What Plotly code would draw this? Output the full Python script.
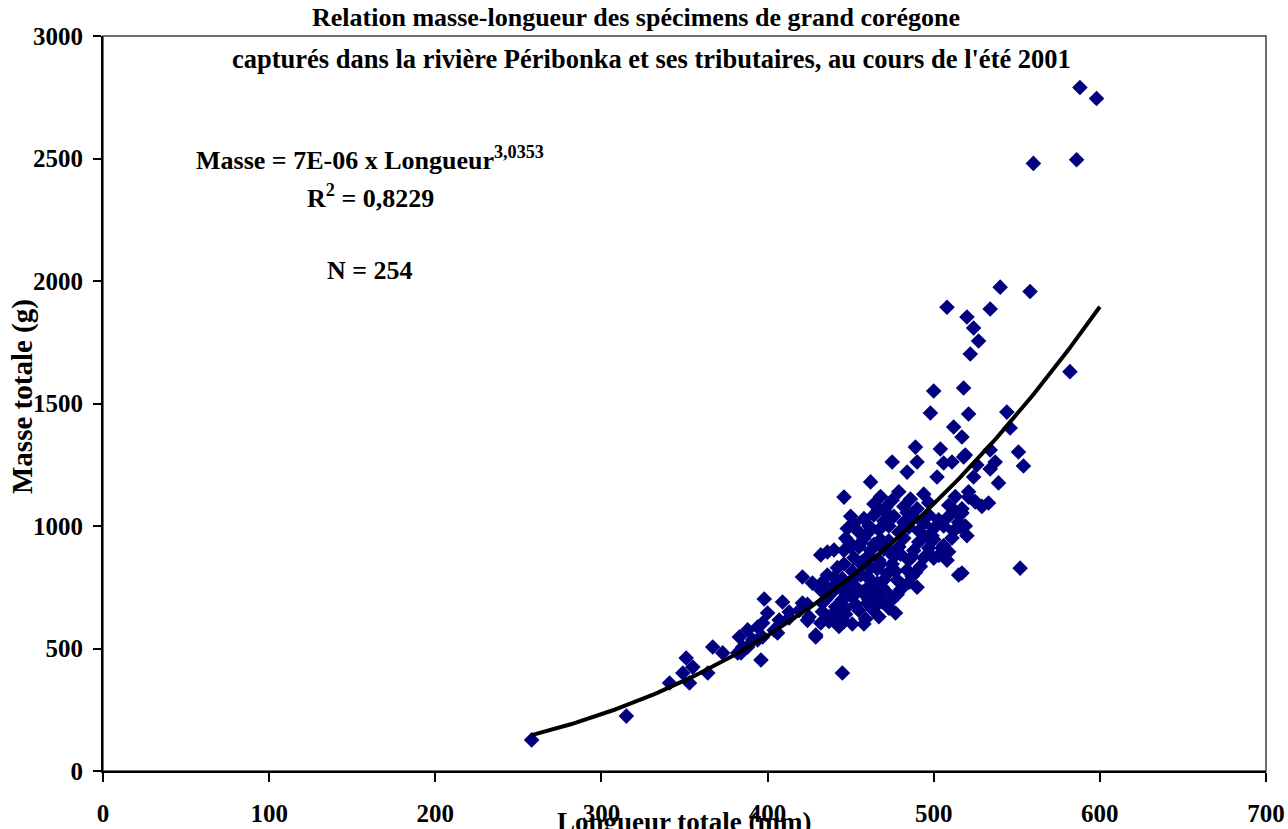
import numpy as np
import plotly.graph_objects as go

# ---- data ----
# isolated / edge points
longueur_a = [258, 315, 341, 353, 349, 355, 351, 364, 367, 373, 384, 388, 396, 394, 383, 391, 397, 406, 385, 382,
              388, 394, 397, 400, 407, 413, 398, 409, 421, 427, 432, 437, 445, 451, 460, 463, 466, 425, 432, 445,
              442, 451, 460, 437, 433, 421, 429, 445, 436, 440, 432, 450, 456, 446, 462, 475, 484, 490, 489, 504,
              502, 511, 519, 524, 512, 517, 498, 500, 518, 521, 544, 546, 508, 520, 534, 524, 527, 522, 540, 558,
              560, 586, 588, 598, 582, 534, 551, 554, 537, 534, 526, 518, 539, 521, 525, 533, 517, 516, 552, 517,
              515, 506, 404, 413, 419, 424, 424, 429, 447, 445]
masse_a = [127, 224, 359, 359, 400, 424, 461, 400, 506, 482, 482, 506, 453, 535, 547, 535, 547, 563, 506, 482,
           576, 588, 604, 645, 616, 649, 702, 690, 792, 767, 739, 727, 767, 780, 792, 739, 767, 629, 604, 604,
           657, 710, 686, 629, 686, 686, 547, 400, 894, 902, 882, 914, 931, 1118, 1180, 1261, 1220, 1261, 1322, 1314,
           1200, 1261, 1290, 1200, 1404, 1363, 1461, 1551, 1563, 1457, 1465, 1400, 1893, 1853, 1886, 1808, 1755, 1702, 1975, 1957,
           2480, 2495, 2790, 2745, 1630, 1310, 1302, 1245, 1261, 1233, 1249, 1282, 1176, 1118, 1098, 1094, 1053, 996, 828, 808,
           800, 1257, 575, 625, 655, 680, 615, 555, 665, 615]

# dense cluster points
longueur_b = [464, 468, 471, 475, 479, 482, 486, 490, 494, 497, 509, 513, 517, 521, 525, 529,
              448, 452, 455, 458, 461, 464, 467, 470, 473, 476, 479, 482, 485, 488, 491, 494, 497, 500, 503, 506,
              509, 512, 515, 519, 460, 472, 450, 466, 484, 499, 513, 520,
              446, 449, 452, 455, 458, 461, 464, 467, 470, 473, 476, 479, 482, 485, 488, 491, 494, 497, 500, 503,
              506, 509, 511, 505, 500, 457, 468, 480, 447, 462, 474, 487, 496, 508,
              433, 436, 439, 442, 445, 448, 451, 454, 457, 460, 463, 466, 469, 472, 475, 478, 481, 484, 487, 490,
              492, 446, 459, 470, 477, 485, 440, 462, 444, 456, 468, 480, 489,
              433, 435, 437, 439, 441, 443, 445, 447, 449, 451, 453, 455, 457, 459, 461, 463, 465, 467, 469, 471,
              473, 475, 477, 478, 440, 458, 466]
masse_b = [1090, 1120, 1075, 1105, 1140, 1080, 1110, 1070, 1130, 1095, 1085, 1120, 1070, 1140, 1100, 1080,
           990, 1010, 975, 1030, 1000, 1045, 985, 1020, 1000, 1040, 975, 1015, 995, 1035, 980, 1010, 1045, 990, 1025, 1000,
           1040, 980, 1015, 1000, 970, 1050, 1040, 1060, 1055, 960, 1060, 960,
           900, 935, 870, 915, 950, 880, 925, 860, 905, 940, 875, 915, 950, 860, 900, 935, 870, 910, 945, 880,
           920, 895, 951, 910, 869, 855, 945, 885, 950, 900, 890, 875, 955, 860,
           770, 800, 750, 830, 785, 760, 815, 745, 840, 795, 770, 825, 750, 805, 845, 780, 760, 820, 795, 750,
           835, 845, 740, 780, 815, 770, 790, 830, 745, 800, 845, 740, 810,
           650, 700, 610, 730, 670, 590, 700, 640, 720, 600, 680, 655, 730, 620, 700, 660, 715, 630, 690, 735,
           665, 700, 645, 720, 640, 600, 680]

longueur = longueur_a + longueur_b
masse = masse_a + masse_b

# power trendline shown on the chart: Masse = 7E-06 x Longueur^3,0353
coef_a = 7e-06
coef_b = 3.0353
trend_x = np.linspace(258, 600, 200)
trend_y = coef_a * trend_x ** coef_b

x_ticks = [0, 100, 200, 300, 400, 500, 600, 700]
y_ticks = [0, 500, 1000, 1500, 2000, 2500, 3000]

FONT = "Liberation Serif"

fig = go.Figure()
fig.add_trace(go.Scatter(
    x=longueur, y=masse, mode="markers",
    marker=dict(symbol="diamond", size=12, color="#000080", line=dict(width=0)),
    showlegend=False, hoverinfo="skip"))
fig.add_trace(go.Scatter(
    x=trend_x, y=trend_y, mode="lines",
    line=dict(color="black", width=4), showlegend=False, hoverinfo="skip"))

axis_font = dict(family=FONT, size=25, color="black", weight="bold")

fig.update_layout(
    width=1288, height=829,
    margin=dict(l=103, r=22, t=36, b=58, autoexpand=False),
    paper_bgcolor="white", plot_bgcolor="white",
    font=dict(family=FONT, color="black"),
    xaxis=dict(range=[0, 700], tickvals=x_ticks, ticktext=[str(v) for v in x_ticks],
               ticks="outside", ticklen=9, tickwidth=1.5, tickcolor="black",
               showline=True, linecolor="black", linewidth=2, mirror=False,
               showgrid=False, zeroline=False, tickfont=axis_font, ticklabelstandoff=10,
               automargin=False),
    yaxis=dict(range=[0, 3000], tickvals=y_ticks, ticktext=[str(v) for v in y_ticks],
               ticks="outside", ticklen=8, tickwidth=1.5, tickcolor="black",
               showline=True, linecolor="black", linewidth=2, mirror=False,
               showgrid=False, zeroline=False, tickfont=axis_font, ticklabelstandoff=5,
               automargin=False),
)

# frame (top / right border)
fig.add_shape(type="rect", xref="paper", yref="paper", x0=0, y0=0, x1=1, y1=1,
              line=dict(color="#404040", width=1.5), layer="below")

title_font = dict(family=FONT, size=26, color="black", weight="bold")
title2_font = dict(family=FONT, size=26.5, color="black", weight="bold")
ann_font = dict(family=FONT, size=26, color="black", weight="bold")
lab_font = dict(family=FONT, size=27, color="black", weight="bold")
ylab_font = dict(family=FONT, size=29, color="black", weight="bold")

def px_x(p):
    return (p - 103) / 1163.0

def px_y(p):
    return (771 - p) / 735.0

fig.add_annotation(text="Relation masse-longueur des spécimens de grand corégone",
                   xref="paper", yref="paper", x=px_x(636), y=px_y(18), showarrow=False,
                   font=title_font, xanchor="center", yanchor="middle")
fig.add_annotation(text="capturés dans la rivière Péribonka et ses tributaires, au cours de l'été 2001",
                   xref="paper", yref="paper", x=px_x(651), y=px_y(59), showarrow=False,
                   font=title2_font, xanchor="center", yanchor="middle")
fig.add_annotation(text="Masse = 7E-06 x Longueur<sup>3,0353</sup>",
                   xref="paper", yref="paper", x=px_x(370), y=px_y(158), showarrow=False,
                   font=ann_font, xanchor="center", yanchor="middle")
fig.add_annotation(text="R<sup>2</sup> = 0,8229",
                   xref="paper", yref="paper", x=px_x(370), y=px_y(196), showarrow=False,
                   font=ann_font, xanchor="center", yanchor="middle")
fig.add_annotation(text="N = 254",
                   xref="paper", yref="paper", x=px_x(370), y=px_y(270), showarrow=False,
                   font=ann_font, xanchor="center", yanchor="middle")
fig.add_annotation(text="Masse totale (g)", textangle=-90,
                   xref="paper", yref="paper", x=px_x(22), y=px_y(397), showarrow=False,
                   font=ylab_font, xanchor="center", yanchor="middle")
fig.add_annotation(text="Longueur totale (mm)",
                   xref="paper", yref="paper", x=px_x(684), y=px_y(822), showarrow=False,
                   font=lab_font, xanchor="center", yanchor="middle")

fig.write_html("out.html")
